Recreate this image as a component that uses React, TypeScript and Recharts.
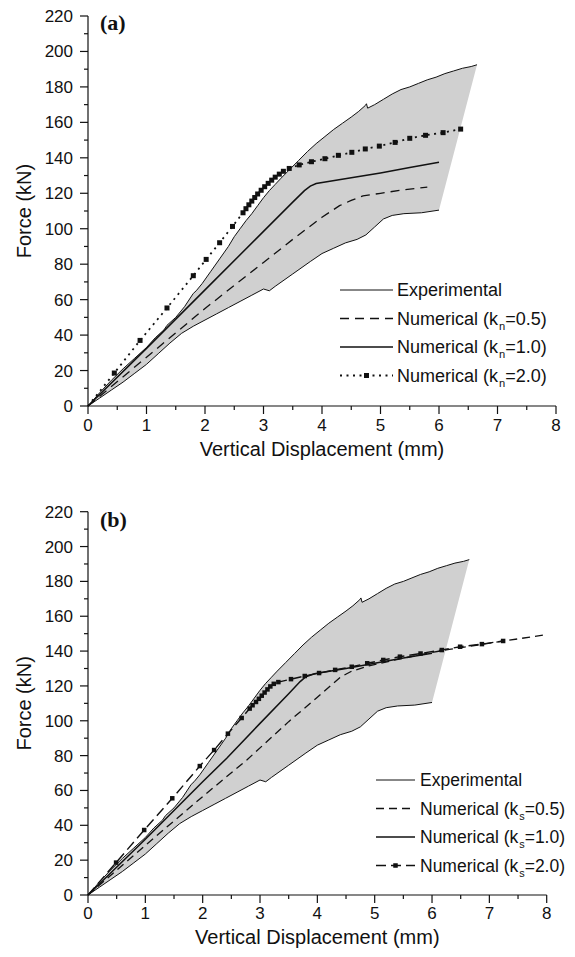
import React from 'react';
import { ComposedChart, Area, Line, XAxis, YAxis, Legend } from 'recharts';

// experimental envelope (same tests shown in both panels), [displacement mm, force kN]
const expUpper: [number, number][] = [
  [0, 0], [0.2, 7.5], [0.4, 14.5], [0.6, 21], [0.8, 27], [1.0, 33], [1.15, 38.5], [1.3, 43],
  [1.35, 45.5], [1.5, 50], [1.65, 56], [1.8, 63.5], [1.85, 65], [1.95, 69], [2.1, 76], [2.25, 83],
  [2.4, 90], [2.5, 95.5], [2.6, 100], [2.7, 104.5], [2.8, 108.5], [2.9, 113], [3.0, 117.5],
  [3.1, 121.5], [3.2, 125], [3.3, 128.5], [3.45, 133.5], [3.6, 138.5], [3.75, 143.5], [3.9, 148],
  [4.05, 152], [4.2, 156], [4.35, 159.5], [4.5, 163], [4.62, 166], [4.74, 169.5], [4.76, 170.5],
  [4.78, 168], [4.9, 170], [5.05, 173], [5.2, 176], [5.35, 178.5], [5.5, 180], [5.65, 182],
  [5.8, 184], [5.95, 185.5], [6.1, 187.5], [6.25, 189], [6.4, 190.5], [6.55, 191.5], [6.65, 192.5],
];
const expLower: [number, number][] = [
  [0, 0], [0.2, 4.5], [0.4, 9], [0.6, 13.5], [0.8, 18.5], [1.0, 23.5], [1.2, 29.5], [1.4, 35.5],
  [1.6, 41], [1.8, 45], [2.0, 48.5], [2.2, 52], [2.4, 55.5], [2.6, 59], [2.8, 62.5], [3.0, 66],
  [3.1, 65], [3.2, 67.5], [3.5, 74.5], [3.8, 81.5], [4.0, 86], [4.2, 89], [4.4, 92], [4.6, 94],
  [4.75, 96.5], [4.9, 101], [5.05, 105.5], [5.2, 107.5], [5.4, 108.5], [5.7, 109], [6.0, 110.5],
];

// panel (a): normal stiffness factor k_n
const numKn05: [number, number][] = [
  [0, 0], [1, 27.5], [2, 55], [3, 81], [3.5, 94], [4, 106.5], [4.3, 113], [4.5, 116],
  [4.7, 118.5], [5.0, 120], [5.4, 122], [5.8, 123.5],
];
const numKn10: [number, number][] = [
  [0, 0], [1, 32.5], [2, 65.5], [3, 98.5], [3.5, 115], [3.7, 121.5], [3.8, 124], [3.9, 125.5],
  [4.5, 128.7], [5.0, 131.5], [5.5, 134.5], [6.0, 137.5],
];
const numKn20: [number, number][] = [
  [0, 0], [0.45, 18.6], [0.89, 37], [1.35, 55.3], [1.8, 73.5], [2.02, 82.7], [2.25, 92.1],
  [2.47, 101.3], [2.65, 109], [2.7, 111.3], [2.75, 113.5], [2.8, 115.6], [2.85, 117.6], [2.9, 119.6],
  [2.96, 121.7], [3.02, 123.7], [3.08, 125.6], [3.14, 127.4], [3.2, 129.1], [3.27, 130.8],
  [3.34, 132.4], [3.44, 134], [3.61, 136], [3.82, 137.8], [4.05, 139.5], [4.28, 141.4],
  [4.51, 143.1], [4.74, 145], [4.98, 146.6], [5.25, 148.7], [5.5, 151], [5.77, 152.7],
  [6.07, 154.2], [6.37, 156.2],
];

// panel (b): shear stiffness factor k_s
const numKs05: [number, number][] = [
  [0, 0], [1, 28.5], [2, 56.5], [2.77, 77.5], [3.5, 99.5], [4.0, 113.5], [4.4, 125], [4.6, 128.5],
  [4.9, 131.5], [5.3, 134.5], [5.8, 138], [6.3, 141], [6.8, 143.5], [7.3, 146], [8, 149.5],
];
const numKs10: [number, number][] = [
  [0, 0], [1, 32], [2, 65], [2.42, 78.5], [3, 98.5], [3.5, 115.5], [3.7, 122.5], [3.8, 125.3],
  [3.95, 127], [4.5, 130], [5.0, 133], [5.5, 136], [6.0, 138.8],
];
const numKs20: [number, number][] = [
  [0, 0], [0.49, 18.6], [0.98, 37.3], [1.47, 55.5], [1.95, 74], [2.2, 83.2], [2.44, 92.6],
  [2.68, 101.6], [2.82, 107], [2.87, 108.9], [2.93, 110.8], [2.98, 112.6], [3.03, 114.4],
  [3.08, 116.2], [3.13, 118], [3.18, 119.7], [3.24, 121.2], [3.32, 122.2], [3.54, 123.9],
  [3.78, 125.7], [4.03, 127.4], [4.31, 129.2], [4.6, 131], [4.87, 133], [5.15, 134.9],
  [5.44, 136.8], [5.8, 138.6], [6.17, 140.6], [6.49, 142.5], [6.87, 144], [7.24, 145.8],
];

const xTickValues = [0, 0.5, 1, 1.5, 2, 2.5, 3, 3.5, 4, 4.5, 5, 5.5, 6, 6.5, 7, 7.5, 8];
const yTickValues = [0, 10, 20, 30, 40, 50, 60, 70, 80, 90, 100, 110, 120, 130, 140, 150, 160, 170, 180, 190, 200, 210, 220];
const factors = ['0.5', '1.0', '2.0'];

const FONT = '"Liberation Sans", Arial, Helvetica, sans-serif';
const INK = '#111';
const BAND = '#d0d0d0';

const pts = (arr: [number, number][]) => arr.map(([x, y]) => ({ x, y }));
// closed band: out along the upper envelope, back along the lower one
const band = pts([...expUpper, ...[...expLower].reverse()]);

type Style = { dash?: string; width: number; marker?: number };

const squareDot = (size: number) => (props: any) => {
  const { cx, cy, payload, index } = props;
  if (cx == null || cy == null || payload.x === 0) return <g key={index} />;
  return <rect key={index} x={cx - size / 2} y={cy - size / 2} width={size} height={size} fill={INK} />;
};

const XTick = (props: any) => {
  const { x, y, payload, labelDy } = props;
  const major = payload.value % 1 === 0;
  return (
    <g>
      <line x1={x} x2={x} y1={y} y2={y + (major ? 8 : 4)} stroke={INK} strokeWidth={1.2} />
      {major && (
        <text x={x} y={y + labelDy} textAnchor="middle" fontSize={17} fontFamily={FONT} fill={INK}>
          {payload.value}
        </text>
      )}
    </g>
  );
};

const YTick = (props: any) => {
  const { x, y, payload } = props;
  const major = payload.value % 20 === 0;
  return (
    <g>
      <line x1={x - (major ? 8 : 4)} x2={x} y1={y} y2={y} stroke={INK} strokeWidth={1.2} />
      {major && (
        <text x={x - 15} y={y + 6} textAnchor="end" fontSize={17} fontFamily={FONT} fill={INK}>
          {payload.value}
        </text>
      )}
    </g>
  );
};

const LegendBox = ({ sub, styles, sx0, sx1, tx, rowH, fontSize }: any) => {
  const rows: Style[] = [{ width: 1 }, ...styles];
  return (
    <svg width={250} height={rowH * 4 + 8} style={{ display: 'block', overflow: 'visible' }}>
      {rows.map((r, i) => {
        const cy = 16 + i * rowH;
        const mid = (sx0 + sx1) / 2;
        return (
          <g key={i}>
            <line x1={sx0} x2={sx1} y1={cy} y2={cy} stroke={INK} strokeWidth={r.width} strokeDasharray={r.dash} />
            {r.marker && <rect x={mid - r.marker / 2} y={cy - r.marker / 2} width={r.marker} height={r.marker} fill={INK} />}
            <text x={tx} y={cy + 6} fontSize={fontSize} fontFamily={FONT} fill={INK}>
              {i === 0 ? (
                'Experimental'
              ) : (
                <>
                  Numerical (k
                  <tspan dy={5} dx={1} fontSize={fontSize * 0.62}>{sub}</tspan>
                  <tspan dy={-5}>={factors[i - 1]})</tspan>
                </>
              )}
            </text>
          </g>
        );
      })}
    </svg>
  );
};

const Panel = (p: any) => {
  const plotLeft = 88;
  const plotRight = p.width - p.margin.right;
  const plotBottom = p.height - p.xAxisHeight;
  const plotTop = p.margin.top;
  return (
    <div style={{ position: 'absolute', left: 0, top: p.top }}>
      <ComposedChart width={p.width} height={p.height} margin={p.margin}>
        <XAxis
          dataKey="x"
          type="number"
          domain={[0, 8]}
          ticks={xTickValues}
          interval={0}
          height={p.xAxisHeight}
          tickSize={0}
          tickMargin={0}
          tickLine={false}
          axisLine={{ stroke: INK, strokeWidth: 1.2 }}
          tick={<XTick labelDy={p.tickDy} />}
          label={{
            content: () => (
              <text x={(plotLeft + plotRight) / 2} y={plotBottom + p.titleDy} textAnchor="middle" fontSize={20} fontFamily={FONT} fill={INK}>
                Vertical Displacement (mm)
              </text>
            ),
          }}
        />
        <YAxis
          dataKey="y"
          type="number"
          domain={[0, 220]}
          ticks={yTickValues}
          interval={0}
          width={plotLeft}
          tickSize={0}
          tickMargin={0}
          tickLine={false}
          axisLine={{ stroke: INK, strokeWidth: 1.2 }}
          tick={<YTick />}
          label={{
            content: () => {
              const cy = (plotTop + plotBottom) / 2;
              return (
                <text x={31} y={cy} transform={`rotate(-90 31 ${cy})`} textAnchor="middle" fontSize={20} fontFamily={FONT} fill={INK}>
                  Force (kN)
                </text>
              );
            },
          }}
        />
        <Legend
          layout="vertical"
          align="center"
          verticalAlign="middle"
          wrapperStyle={{ left: p.legend.left, top: p.legend.top, width: 250 }}
          content={() => <LegendBox sub={p.sub} styles={p.series.map((s: any) => s.style)} {...p.legend.box} />}
        />
        <Area data={band} dataKey="y" type="linear" fill={BAND} fillOpacity={1} stroke="none" dot={false} activeDot={false} isAnimationActive={false} />
        <Line data={pts(expUpper)} dataKey="y" type="linear" stroke={INK} strokeWidth={1} dot={false} activeDot={false} isAnimationActive={false} />
        <Line data={pts(expLower)} dataKey="y" type="linear" stroke={INK} strokeWidth={1} dot={false} activeDot={false} isAnimationActive={false} />
        {p.series.map((s: any, i: number) => (
          <Line
            key={i}
            data={pts(s.data)}
            dataKey="y"
            type="linear"
            stroke={INK}
            strokeWidth={s.style.width}
            strokeDasharray={s.style.dash}
            dot={s.style.marker ? squareDot(s.style.marker) : false}
            activeDot={false}
            isAnimationActive={false}
          />
        ))}
        <text x={100} y={p.tagY} fontSize={22} fontWeight="bold" fontFamily='"Liberation Serif", "Times New Roman", serif' fill={INK}>
          {p.tag}
        </text>
      </ComposedChart>
    </div>
  );
};

export default function App() {
  return (
    <div style={{ position: 'absolute', left: 0, top: 0, width: 575, height: 957, background: '#fff' }}>
      <Panel
        top={0}
        width={575}
        height={478}
        margin={{ top: 16, right: 19, left: 0, bottom: 0 }}
        xAxisHeight={72}
        tickDy={25}
        titleDy={50}
        tag="(a)"
        tagY={30}
        sub="n"
        series={[
          { data: numKn05, style: { dash: '9 6', width: 1.3 } },
          { data: numKn10, style: { width: 1.5 } },
          { data: numKn20, style: { dash: '2 4.5', width: 1.8, marker: 5 } },
        ]}
        legend={{ left: 336, top: 274, box: { sx0: 4, sx1: 57, tx: 61, rowH: 28.5, fontSize: 18 } }}
      />
      <Panel
        top={480}
        width={575}
        height={477}
        margin={{ top: 31.7, right: 28.3, left: 0, bottom: 0 }}
        xAxisHeight={62}
        tickDy={24}
        titleDy={49}
        tag="(b)"
        tagY={47}
        sub="s"
        series={[
          { data: numKs05, style: { dash: '8 5', width: 1.3 } },
          { data: numKs10, style: { width: 1.5 } },
          { data: numKs20, style: { dash: '10 5', width: 1.4, marker: 4.5 } },
        ]}
        legend={{ left: 372, top: 283.5, box: { sx0: 4, sx1: 43, tx: 48, rowH: 28.5, fontSize: 17.5 } }}
      />
    </div>
  );
}
